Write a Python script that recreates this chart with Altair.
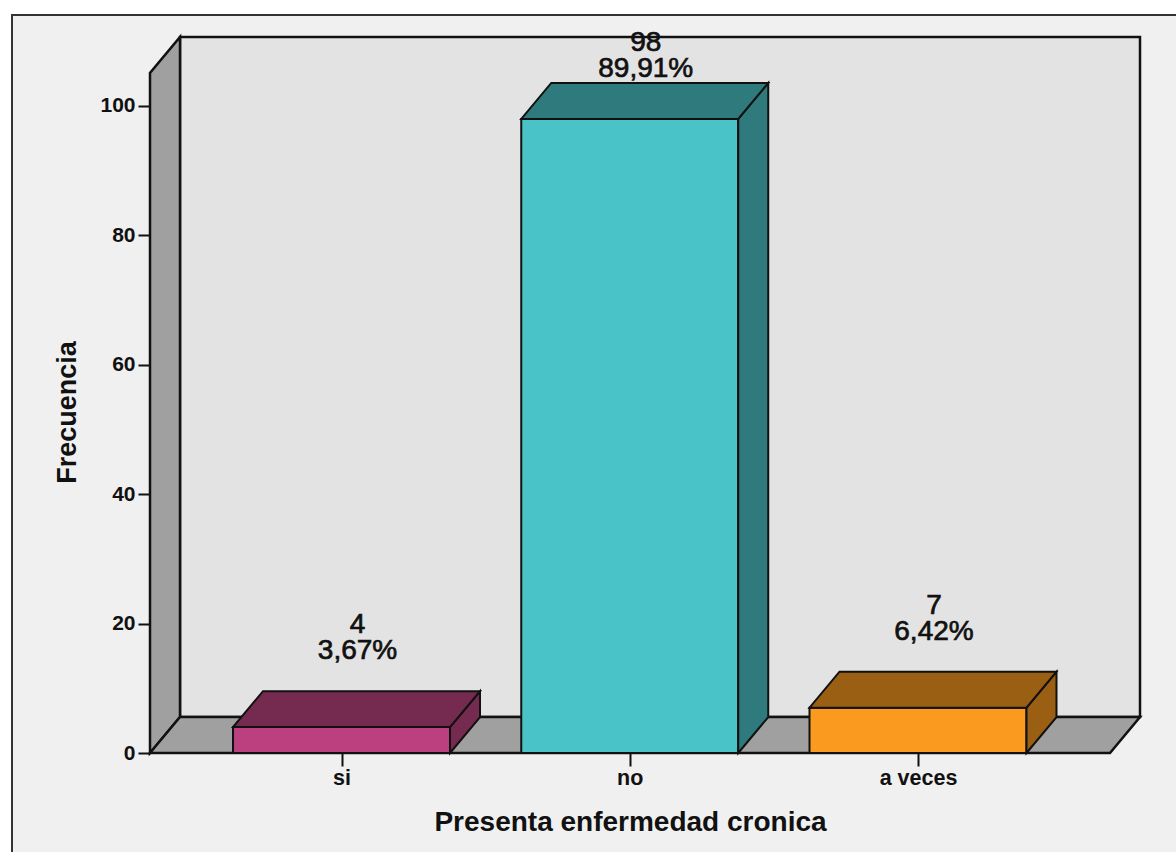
import altair as alt
import pandas as pd

# Frequency table for "Presenta enfermedad cronica"
categorias = ["si", "no", "a veces"]
frecuencias = [4, 98, 7]
porcentajes = ["3,67%", "89,91%", "6,42%"]
color_frente = ["#bc4080", "#4ac3c8", "#fa9a1f"]
color_sombra = ["#752a50", "#2f7a7d", "#9a5f12"]
ticks_y = [0, 20, 40, 60, 80, 100]

# Box geometry, in axis units (category index / frequency)
SEMI_ANCHO = 0.3764
PROF_X = 0.1041
PROF_Y = 5.56
X_MIN, X_MAX = -0.6644, 2.7702
Y_MAX = 110.66
Y_PARED = 105.1
HUECO = 4.95
TECHO = 104.5


def cara(nombre, color, filas):
    return pd.DataFrame(
        [{"id": nombre, "color": color, "x": x, "y": y, "y2": y2} for x, y, y2 in filas]
    )


x_scale = alt.Scale(domain=[X_MIN, X_MAX], nice=False, zero=False)
y_scale = alt.Scale(domain=[0, Y_MAX], nice=False)

# Shared axes: ticks and labels only, the box edges come from the walls
x_axis = alt.Axis(
    values=[0, 1, 2],
    labelExpr="['si','no','a veces'][datum.value]",
    domain=False, grid=False, tickColor="#111111", tickWidth=2, tickSize=13,
    labelFont="Liberation Sans", labelFontWeight="bold", labelFontSize=21.5,
    labelColor="#111111", labelPadding=1,
    title="Presenta enfermedad cronica",
    titleFont="Liberation Sans", titleFontWeight="bold", titleFontSize=28,
    titleColor="#111111", titleX=480, titleY=69, titleBaseline="middle",
    zindex=1,
)
y_axis = alt.Axis(
    values=ticks_y,
    domain=False, grid=False, tickColor="#111111", tickWidth=2, tickSize=12,
    labelFont="Liberation Sans", labelFontWeight="bold", labelFontSize=21,
    labelColor="#111111", labelPadding=3,
    title="Frecuencia",
    titleFont="Liberation Sans", titleFontWeight="bold", titleFontSize=27,
    titleColor="#111111", titleX=-83, titleY=375, titleBaseline="middle",
    zindex=1,
)


def caras(filas_x, grosor):
    return alt.Chart(filas_x).mark_area(
        stroke="#111111", strokeWidth=grosor, strokeJoin="miter"
    ).encode(
        x=alt.X("x:Q", scale=x_scale, axis=x_axis),
        y=alt.Y("y:Q", scale=y_scale, axis=y_axis, stack=None),
        y2="y2:Q",
        fill=alt.Fill("color:N", scale=None),
        detail="id:N",
    )


# Panel background and its frame
marco = alt.Chart(pd.DataFrame({"a": [0]})).mark_rect(
    fill="#f0f0f0", stroke="#333333", strokeWidth=2
).encode(
    x=alt.value(-138), x2=alt.value(1100), y=alt.value(-22), y2=alt.value(860)
)

# Walls and floor of the box
paredes = pd.concat([
    cara("fondo", "#e3e3e3", [(X_MIN + PROF_X, PROF_Y, Y_MAX), (X_MAX, PROF_Y, Y_MAX)]),
    cara("izquierda", "#a0a0a0", [(X_MIN, 0, Y_PARED), (X_MIN + PROF_X, PROF_Y, Y_MAX)]),
    cara("suelo", "#a0a0a0", [
        (X_MIN, 0, 0),
        (X_MIN + PROF_X, 0, PROF_Y),
        (X_MAX - PROF_X, 0, PROF_Y),
        (X_MAX, PROF_Y, PROF_Y),
    ]),
])

# Three faces per bar, all derived from the frequency values
filas = []
for i, (cat, v) in enumerate(zip(categorias, frecuencias)):
    izq, der = i - SEMI_ANCHO, i + SEMI_ANCHO
    filas.append(cara(f"{cat}-frente", color_frente[i], [(izq, 0, v), (der, 0, v)]))
    filas.append(cara(f"{cat}-lado", color_sombra[i], [(der, 0, v), (der + PROF_X, PROF_Y, v + PROF_Y)]))
    filas.append(cara(f"{cat}-tapa", color_sombra[i], [
        (izq, v, v),
        (izq + PROF_X, v, v + PROF_Y),
        (der, v, v + PROF_Y),
        (der + PROF_X, v + PROF_Y, v + PROF_Y),
    ]))
barras = pd.concat(filas)

# Count and percentage above each bar, kept inside the panel
etiquetas = pd.DataFrame({
    "x": [i + PROF_X / 2 for i in range(len(categorias))],
    "y": [min(v + PROF_Y + HUECO, TECHO) for v in frecuencias],
    "n": [str(v) for v in frecuencias],
    "pct": porcentajes,
})
base_txt = alt.Chart(etiquetas).encode(
    x=alt.X("x:Q", scale=x_scale, axis=x_axis),
    y=alt.Y("y:Q", scale=y_scale, axis=y_axis),
)
estilo = dict(font="Liberation Sans", fontSize=28, color="#111111", align="center",
              baseline="alphabetic", stroke="#111111", strokeWidth=0.7, dx=1)
txt_pct = base_txt.mark_text(**estilo).encode(text="pct:N")
txt_n = base_txt.mark_text(dy=-26, **estilo).encode(text="n:N")

chart = alt.layer(
    marco, caras(paredes, 2.5), caras(barras, 2), txt_n, txt_pct
).properties(
    width=990,
    height=716,
    padding={"left": 150, "top": 37, "right": 36, "bottom": 99},
    autosize=alt.AutoSizeParams(type="none"),
    background="white",
).configure_view(stroke=None)

chart.save("out.html", embed_options={"renderer": "svg", "actions": False})
